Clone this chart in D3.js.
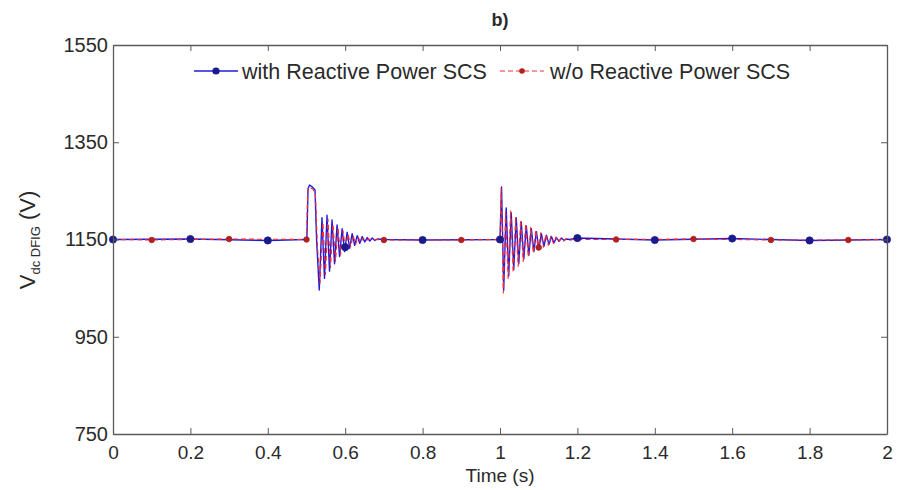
<!DOCTYPE html>
<html><head><meta charset="utf-8">
<script src="https://cdn.jsdelivr.net/npm/d3@7"></script>
<style>
body{margin:0;background:#fff}
svg{display:block}
text{font-family:"Liberation Sans",Arial,sans-serif;fill:#2a2a2a}
</style>
</head><body>
<svg id="c" width="911" height="490"></svg>
<script>
// ---- data ----
const xTicks = [0, 0.2, 0.4, 0.6, 0.8, 1, 1.2, 1.4, 1.6, 1.8, 2];
const yTicks = [750, 950, 1150, 1350, 1550];
const seriesNames = ["with Reactive Power SCS", "w/o Reactive Power SCS"];

const withT = [0, 0.2, 0.4, 0.497, 0.501, 0.504, 0.508, 0.515, 0.522, 0.526, 0.533, 0.540, 0.5465, 0.553, 0.5595, 0.566, 0.5725, 0.579, 0.5855, 0.592, 0.5985, 0.605, 0.6115, 0.618, 0.6245, 0.631, 0.6375, 0.644, 0.6505, 0.657, 0.6635, 0.670, 0.6765, 0.683, 0.70, 0.8, 1.0, 1.004, 1.007, 1.0095, 1.016, 1.0225, 1.029, 1.0355, 1.042, 1.0485, 1.055, 1.0615, 1.068, 1.0745, 1.081, 1.0875, 1.094, 1.1005, 1.107, 1.1135, 1.120, 1.1265, 1.133, 1.1395, 1.146, 1.1525, 1.159, 1.1655, 1.172, 1.18, 1.2, 1.4, 1.6, 1.8, 2.0];
const withV = [1150, 1151, 1148, 1150, 1150, 1255, 1262, 1258, 1252, 1150, 1046, 1195, 1070, 1200, 1085, 1190, 1100, 1180, 1115, 1172, 1125, 1165, 1132, 1162, 1138, 1158, 1142, 1156, 1145, 1154, 1147, 1153, 1148, 1151, 1150, 1149, 1150, 1258, 1150, 1045, 1215, 1075, 1205, 1088, 1195, 1100, 1186, 1110, 1178, 1118, 1172, 1125, 1166, 1131, 1162, 1136, 1159, 1140, 1156, 1143, 1154, 1146, 1153, 1148, 1151, 1150, 1153, 1149, 1152, 1148, 1150];

const woT = [0, 0.1, 0.3, 0.5, 0.503, 0.507, 0.516, 0.523, 0.528, 0.535, 0.5425, 0.549, 0.5555, 0.562, 0.5685, 0.575, 0.5815, 0.588, 0.5945, 0.601, 0.6075, 0.614, 0.6205, 0.627, 0.6335, 0.640, 0.6465, 0.653, 0.66, 0.67, 0.7, 0.9, 1.0, 1.003, 1.006, 1.0085, 1.0145, 1.021, 1.0275, 1.034, 1.0405, 1.047, 1.0535, 1.060, 1.0665, 1.073, 1.0795, 1.086, 1.0925, 1.099, 1.1055, 1.112, 1.1185, 1.125, 1.1315, 1.138, 1.1445, 1.151, 1.1575, 1.164, 1.1705, 1.177, 1.19, 1.3, 1.5, 1.7, 1.9, 2.0];
const woV = [1150, 1149, 1151, 1150, 1250, 1258, 1254, 1245, 1140, 1060, 1185, 1078, 1192, 1092, 1182, 1105, 1175, 1118, 1168, 1128, 1162, 1135, 1158, 1140, 1155, 1144, 1153, 1147, 1151, 1150, 1149, 1149, 1150, 1255, 1160, 1040, 1205, 1070, 1210, 1082, 1198, 1095, 1190, 1105, 1182, 1114, 1175, 1122, 1169, 1128, 1164, 1134, 1160, 1138, 1157, 1142, 1155, 1145, 1153, 1147, 1152, 1148, 1150, 1150, 1151, 1149, 1149, 1150];

const withMarkT = [0, 0.2, 0.4, 0.6, 0.8, 1.0, 1.2, 1.4, 1.6, 1.8, 2.0];
const woMarkT = [0.1, 0.3, 0.5, 0.7, 0.9, 1.1, 1.3, 1.5, 1.7, 1.9];

// ---- chart ----
const svg = d3.select("#c");
const x = d3.scaleLinear().domain([0, 2]).range([113, 887]);
const y = d3.scaleLinear().domain([750, 1550]).range([434, 45]);
const axisCol = "#5a5a5a";
const fmt = d => String(d);

const series = [
  {T: withT, V: withV, M: withMarkT, color: "#1c1ce0", mcol: "#1a1a8a", dash: null, w: 1.4, r: 3.6},
  {T: woT, V: woV, M: woMarkT, color: "#ff2a2a", mcol: "#b02020", dash: "5,3", w: 1.1, r: 2.8}
];

svg.append("clipPath").attr("id", "cp").append("rect")
  .attr("x", 113).attr("y", 45).attr("width", 774).attr("height", 389);

const gPlot = svg.append("g").attr("clip-path", "url(#cp)");
const line = d3.line().x(d => x(d[0])).y(d => y(d[1]));

series.forEach(s => {
  const pts = s.T.map((t, i) => [t, s.V[i]]);
  gPlot.append("path").attr("d", line(pts)).attr("fill", "none")
    .attr("stroke", s.color).attr("stroke-width", s.w)
    .attr("stroke-dasharray", s.dash).attr("stroke-linejoin", "round");
  const interp = t => {
    const i = Math.max(1, d3.bisectLeft(s.T, t));
    if (i >= s.T.length) return s.V[s.V.length - 1];
    const t0 = s.T[i - 1], t1 = s.T[i];
    if (t1 === t0) return s.V[i];
    return s.V[i - 1] + (s.V[i] - s.V[i - 1]) * (t - t0) / (t1 - t0);
  };
  svg.append("g").selectAll("circle").data(s.M).join("circle")
    .attr("cx", d => x(d)).attr("cy", d => y(s.T.includes(d) ? s.V[s.T.indexOf(d)] : interp(d)))
    .attr("r", s.r).attr("fill", s.mcol).attr("stroke", s.mcol).attr("stroke-width", 0.8);
});

// axes
function styleAxis(g) {
  g.selectAll(".domain").attr("stroke", axisCol).attr("stroke-width", 1.3);
  g.selectAll(".tick line").attr("stroke", axisCol).attr("stroke-width", 1);
  g.selectAll("text").attr("fill", "#2a2a2a");
}
svg.append("g").attr("transform", "translate(0,434)")
  .call(d3.axisBottom(x).tickValues(xTicks).tickFormat(fmt).tickSize(-6).tickPadding(12).tickSizeOuter(0))
  .call(styleAxis).selectAll("text").attr("font-size", 19).attr("font-family", "Liberation Sans, Arial, sans-serif");
svg.append("g").attr("transform", "translate(0,45)")
  .call(d3.axisTop(x).tickValues(xTicks).tickFormat("").tickSize(-6).tickSizeOuter(0)).call(styleAxis);
svg.append("g").attr("transform", "translate(113,0)")
  .call(d3.axisLeft(y).tickValues(yTicks).tickFormat(fmt).tickSize(-6).tickPadding(5).tickSizeOuter(0))
  .call(styleAxis).selectAll("text").attr("font-size", 20).attr("font-family", "Liberation Sans, Arial, sans-serif");
svg.append("g").attr("transform", "translate(887,0)")
  .call(d3.axisRight(y).tickValues(yTicks).tickFormat("").tickSize(-6).tickSizeOuter(0)).call(styleAxis);

// legend
const lg = svg.append("g");
const legendItems = [
  {x0: 194, tx: 242, s: series[0]},
  {x0: 500, tx: 550, s: series[1]}
];
legendItems.forEach((it, i) => {
  const ly = 71;
  lg.append("line").attr("x1", it.x0).attr("x2", it.x0 + 44).attr("y1", ly).attr("y2", ly)
    .attr("stroke", it.s.color).attr("stroke-width", it.s.w).attr("stroke-dasharray", it.s.dash);
  lg.append("circle").attr("cx", it.x0 + 22).attr("cy", ly).attr("r", it.s.r).attr("fill", it.s.mcol);
  lg.append("text").attr("x", it.tx).attr("y", ly).attr("dy", "0.36em")
    .attr("font-size", 21.5).text(seriesNames[i]);
});

// title
svg.append("text").attr("x", 500).attr("y", 20).attr("dy", "0.35em").attr("text-anchor", "middle")
  .attr("font-size", 18).attr("font-weight", "bold").text("b)");

// axis labels
svg.append("text").attr("x", 500).attr("y", 482).attr("text-anchor", "middle")
  .attr("font-size", 19).text("Time (s)");
const yl = svg.append("text").attr("transform", "translate(35,240) rotate(-90)")
  .attr("text-anchor", "middle").attr("font-size", 22);
yl.append("tspan").text("V");
yl.append("tspan").attr("font-size", 13).attr("dy", 5).text("dc DFIG");
yl.append("tspan").attr("dy", -5).text(" (V)");
</script>
</body></html>
